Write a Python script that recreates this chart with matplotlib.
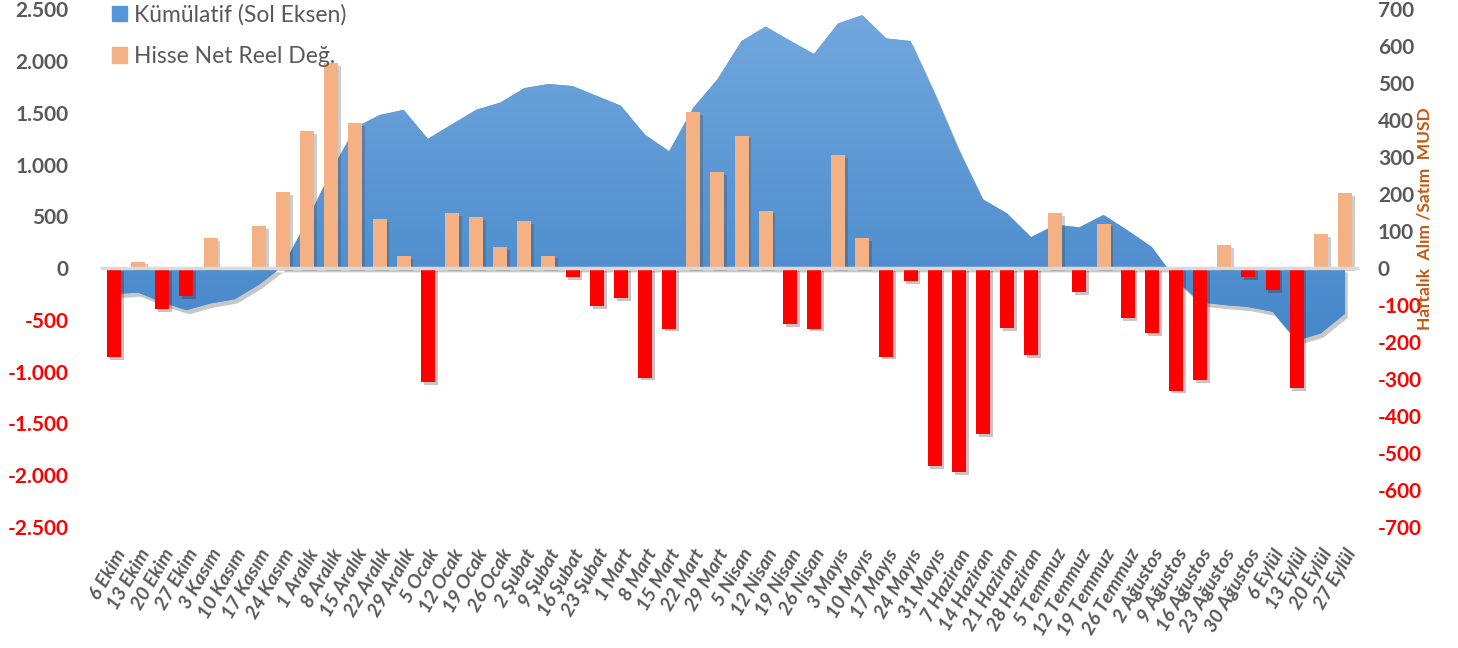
import numpy as np
import matplotlib
matplotlib.use("Agg")
import matplotlib.pyplot as plt
from matplotlib import patheffects as pe
from matplotlib.patches import Patch
from matplotlib.colors import LinearSegmentedColormap

plt.rcParams['font.family'] = ['Lato', 'DejaVu Sans']

# haftalar
weeks = ["6 Ekim", "13 Ekim", "20 Ekim", "27 Ekim", "3 Kasım", "10 Kasım", "17 Kasım", "24 Kasım",
         "1 Aralık", "8 Aralık", "15 Aralık", "22 Aralık", "29 Aralık", "5 Ocak", "12 Ocak", "19 Ocak",
         "26 Ocak", "2 Şubat", "9 Şubat", "16 Şubat", "23 Şubat", "1 Mart", "8 Mart", "15 Mart",
         "22 Mart", "29 Mart", "5 Nisan", "12 Nisan", "19 Nisan", "26 Nisan", "3 Mayıs", "10 Mayıs",
         "17 Mayıs", "24 Mayıs", "31 Mayıs", "7 Haziran", "14 Haziran", "21 Haziran", "28 Haziran",
         "5 Temmuz", "12 Temmuz", "19 Temmuz", "26 Temmuz", "2 Ağustos", "9 Ağustos", "16 Ağustos",
         "23 Ağustos", "30 Ağustos", "6 Eylül", "13 Eylül", "20 Eylül", "27 Eylül"]

# haftalik net alim/satim (MUSD, sag eksen)
net = [-240, 18, -111, -75, 81, 0, 115, 207, 370, 556, 393, 132, 33, -309, 150, 138,
       57, 128, 34, -25, -103, -81, -296, -163, 423, 260, 359, 156, -151, -163, 306, 81,
       -239, -34, -535, -551, -448, -162, -234, 150, -64, 121, -135, -176, -331, -303,
       62, -24, -59, -325, 92, 203]

# kumulatif (sol eksen)
cum = [-250, -235, -330, -405, -340, -300, -160, 20, 460, 940, 1360, 1480, 1530, 1250, 1390, 1530,
       1600, 1740, 1780, 1760, 1665, 1570, 1290, 1130, 1550, 1825, 2195, 2335, 2200, 2070, 2365, 2445,
       2220, 2195, 1690, 1145, 665, 530, 300, 420, 395, 515, 365, 205, -110, -330,
       -355, -375, -420, -700, -630, -440]

left_ticks = list(range(-2500, 2501, 500))
right_ticks = list(range(-700, 701, 100))

gray = '#595959'
blue = '#5596D6'
orange = '#F4B183'

fig = plt.figure(figsize=(14.58, 6.48), dpi=100)
ax = fig.add_axes([102 / 1458, 1 - 527 / 648, 1255 / 1458, 517.5 / 648])
ax2 = ax.twinx()

x = np.arange(len(weeks))

# alan grafigi (gradyanli)
poly = ax.fill_between(x, cum, 0, color=blue, lw=0, zorder=1)
poly.set_path_effects([pe.SimplePatchShadow(offset=(2, -3), shadow_rgbFace='black', alpha=0.22), pe.Normal()])
grad = np.linspace(0, 1, 256).reshape(-1, 1)
cmap = LinearSegmentedColormap.from_list('mavi', ['#4586C9', '#72A8DE'])
im = ax.imshow(grad, extent=[-0.5, len(weeks) - 0.5, -800, 2500], origin='lower',
               cmap=cmap, aspect='auto', zorder=1.1)
im.set_clip_path(poly.get_paths()[0], transform=ax.transData)

ax.set_xlim(-0.5, len(weeks) - 0.5)
ax.set_ylim(-2500, 2500)
for s in ax.spines.values():
    s.set_visible(False)
ax.set_yticks(left_ticks, [f"{v:,}".replace(',', '.') for v in left_ticks])
for lab, v in zip(ax.get_yticklabels(), left_ticks):
    lab.set_color('red' if v < 0 else gray)
    lab.set_fontweight('bold')
ax.tick_params(axis='y', length=0, pad=24, labelsize=15)
ax.tick_params(axis='x', which='both', length=0, labelbottom=False)

# cubuklar
colors = [orange if v >= 0 else '#FF0000' for v in net]
bars = ax2.bar(x, net, width=0.58, color=colors, zorder=2)
for b in bars:
    b.set_path_effects([pe.SimplePatchShadow(offset=(2, -2), alpha=0.25), pe.Normal()])

ax2.set_ylim(-700, 700)
ax2.set_xlim(-0.5, len(weeks) - 0.5)
for k in ['top', 'left', 'right']:
    ax2.spines[k].set_visible(False)
ax2.spines['bottom'].set_position(('data', 0))
ax2.spines['bottom'].set_color('#D9D9D9')
ax2.spines['bottom'].set_linewidth(2.5)
ax2.set_xticks(np.arange(-0.5, len(weeks), 1))
ax2.tick_params(axis='x', length=5, width=2, color='#D9D9D9', labelbottom=False)
ax2.set_yticks(right_ticks, [str(v) for v in right_ticks])
for lab, v in zip(ax2.get_yticklabels(), right_ticks):
    lab.set_color('red' if v < 0 else gray)
    lab.set_fontweight('bold')
ax2.tick_params(axis='y', length=0, pad=15, labelsize=15)

for i, w in enumerate(weeks):
    ax2.text(i + 0.3, -0.045, w, transform=ax2.get_xaxis_transform(), rotation=60,
             rotation_mode='anchor', ha='right', va='center', fontsize=14,
             fontweight='bold', style='italic', color=gray)

handles = [Patch(color=blue), Patch(color=orange)]
fig.legend(handles, ["Kümülatif (Sol Eksen)", "Hisse Net Reel Değ."], loc='upper left',
           bbox_to_anchor=(112 / 1458, 1 - 4 / 648), frameon=False, fontsize=16.5,
           handlelength=0.65, handleheight=0.65, handletextpad=0.3, labelspacing=0.9,
           borderpad=0, borderaxespad=0, labelcolor=gray)

fig.text(1425 / 1458, 1 - 219 / 648, "Haftalık  Alım /Satım  MUSD", rotation=90,
         ha='center', va='center', color='#C55A11', fontsize=12.5, fontweight='bold')

fig.savefig('out.png', dpi=100)
